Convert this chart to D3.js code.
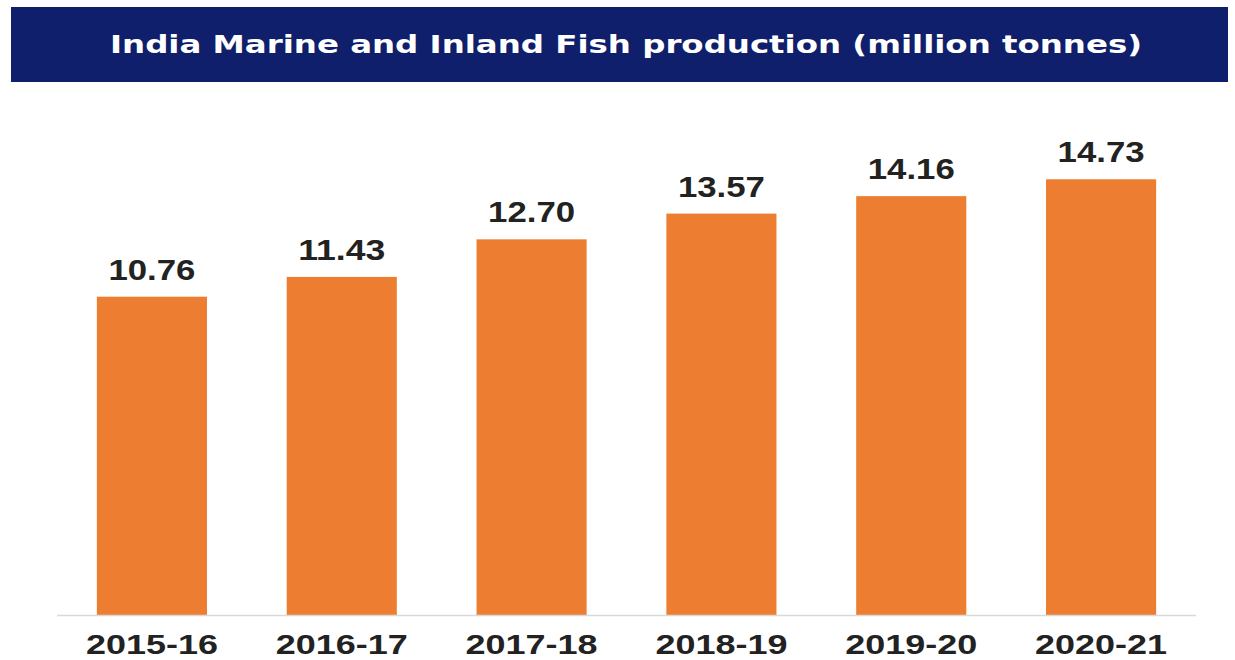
<!DOCTYPE html>
<html>
<head>
<meta charset="utf-8">
<script src="https://cdn.jsdelivr.net/npm/d3@7"></script>
<style>
  body { margin: 0; background: #fff; }
</style>
</head>
<body>
<svg width="1235" height="660"></svg>
<script>
var years = ["2015-16", "2016-17", "2017-18", "2018-19", "2019-20", "2020-21"]
var production = [10.76, 11.43, 12.70, 13.57, 14.16, 14.73]
var title = "India Marine and Inland Fish production (million tonnes)"

var svg = d3.select("svg")
var base = 615

var scX = d3.scaleBand()
    .domain(years)
    .range([57, 1196])
    .paddingInner(0.42).paddingOuter(0.21)

var scY = d3.scaleLinear()
    .domain([0, 16])
    .range([base, base - 16 * 29.58])

// title bar
svg.append("rect")
    .attr("x", 11).attr("y", 7)
    .attr("width", 1217).attr("height", 75)
    .attr("fill", "#0F1F6C")

svg.append("text")
    .attr("x", 626).attr("y", 53)
    .attr("text-anchor", "middle")
    .attr("font-family", "DejaVu Sans")
    .attr("font-weight", "bold")
    .attr("font-size", 24)
    .attr("fill", "#fff")
    .attr("textLength", 1032).attr("lengthAdjust", "spacingAndGlyphs")
    .text(title)

var data = years.map((y, i) => ({ year: y, value: production[i] }))

// bars
svg.append("g")
    .selectAll("rect")
    .data(data).enter().append("rect")
    .attr("x", d => scX(d.year))
    .attr("y", d => scY(d.value))
    .attr("width", scX.bandwidth())
    .attr("height", d => base - scY(d.value))
    .attr("fill", "#ED7D31")

// baseline
svg.append("line")
    .attr("x1", 57).attr("x2", 1196)
    .attr("y1", base + 0.5).attr("y2", base + 0.5)
    .attr("stroke", "#D9D9D9").attr("stroke-width", 1.5)

// value labels
svg.append("g")
    .selectAll("text")
    .data(data).enter().append("text")
    .attr("x", d => scX(d.year) + scX.bandwidth() / 2)
    .attr("y", d => scY(d.value) - 17)
    .attr("text-anchor", "middle")
    .attr("font-family", "Liberation Sans, Arial")
    .attr("font-weight", "bold")
    .attr("font-size", 29)
    .attr("fill", "#222")
    .attr("textLength", 87).attr("lengthAdjust", "spacingAndGlyphs")
    .text(d => d.value.toFixed(2))

// category labels
svg.append("g")
    .selectAll("text")
    .data(years).enter().append("text")
    .attr("x", d => scX(d) + scX.bandwidth() / 2)
    .attr("y", 654)
    .attr("text-anchor", "middle")
    .attr("font-family", "Liberation Sans, Arial")
    .attr("font-weight", "bold")
    .attr("font-size", 28)
    .attr("fill", "#222")
    .attr("textLength", 132).attr("lengthAdjust", "spacingAndGlyphs")
    .text(d => d)
</script>
</body>
</html>
